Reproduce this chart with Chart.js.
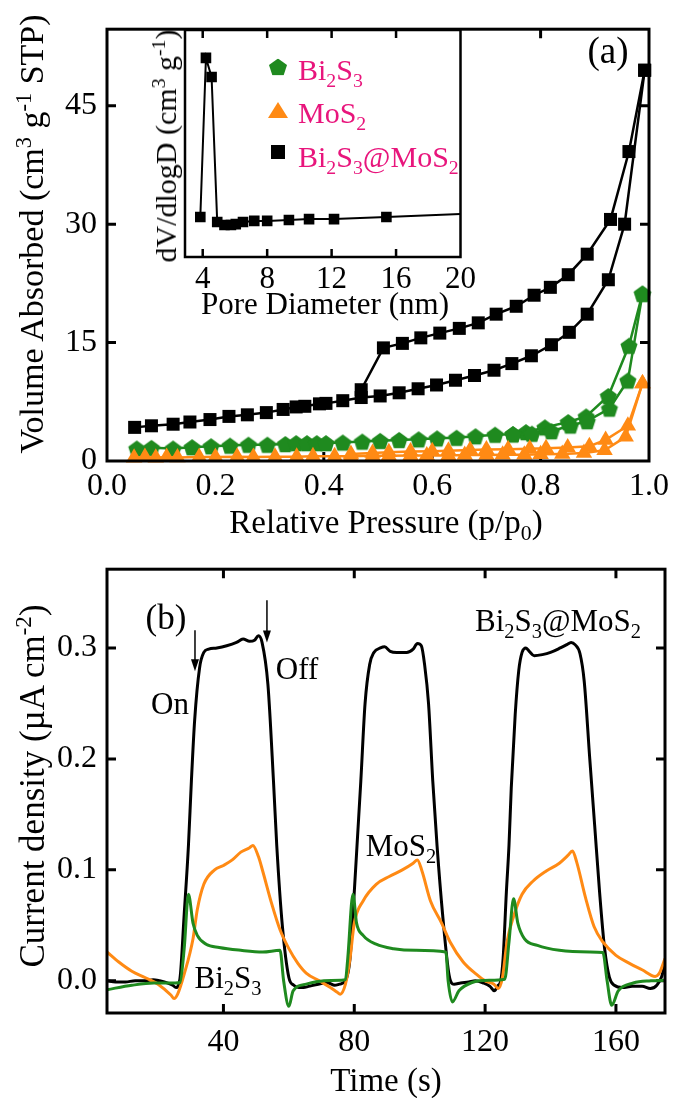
<!DOCTYPE html>
<html>
<head>
<meta charset="utf-8">
<script src="https://cdn.jsdelivr.net/npm/chart.js@4.4.1/dist/chart.umd.min.js"></script>
<style>
  body { margin: 0; width: 675px; height: 1098px; position: relative; background: #fff; overflow: hidden;
         font-family: 'Liberation Serif', 'Times New Roman', serif; }
  canvas { position: absolute; }
  .t { position: absolute; white-space: nowrap; transform: translate(-50%, -50%); line-height: 1; color: #000; }
  .r { transform: translate(-50%, -50%) rotate(-90deg); }
  .pink { color: #e8157c; }
  sub, sup { font-size: 66%; line-height: 0; }
  .mk { position: absolute; transform: translate(-50%, -50%); }
</style>
</head>
<body>
<canvas id="iso" width="675" height="510" style="left:0;top:0"></canvas>
<canvas id="pore" width="330" height="320" style="left:150px;top:0"></canvas>
<canvas id="photo" width="675" height="558" style="left:0;top:540px"></canvas>

<!-- panel (a) texts -->
<div class="t" style="left:608px;top:50px;font-size:37px">(a)</div>
<div class="t r" style="left:32px;top:234px;font-size:34px">Volume Absorbed (cm<sup>3</sup> g<sup>-1</sup> STP)</div>
<div class="t" style="left:386px;top:522px;font-size:33px">Relative Pressure (p/p<sub>0</sub>)</div>
<div class="t r" style="left:166px;top:146px;font-size:30px">dV/dlogD (cm<sup>3</sup> g<sup>-1</sup>)</div>
<div class="t" style="left:325px;top:303px;font-size:31px">Pore Diameter (nm)</div>

<!-- legend inside inset -->
<div class="mk" style="left:278px;top:67px;width:18px;height:17px;background:#1f8a1f;clip-path:polygon(50% 0,100% 38%,81% 100%,19% 100%,0 38%)"></div>
<div class="t pink" style="left:298px;top:70px;font-size:30px;transform:translate(0,-50%)">Bi<sub>2</sub>S<sub>3</sub></div>
<div class="mk" style="left:278px;top:110px;width:20px;height:16px;background:#ff8a14;clip-path:polygon(50% 0,100% 100%,0 100%)"></div>
<div class="t pink" style="left:298px;top:113px;font-size:30px;transform:translate(0,-50%)">MoS<sub>2</sub></div>
<div class="mk" style="left:278px;top:152px;width:14px;height:14px;background:#000"></div>
<div class="t pink" style="left:298px;top:157px;font-size:30px;transform:translate(0,-50%)">Bi<sub>2</sub>S<sub>3</sub>@MoS<sub>2</sub></div>

<!-- panel (b) texts -->
<div class="t" style="left:166px;top:617px;font-size:35px">(b)</div>
<div class="t" style="left:170px;top:703px;font-size:31px">On</div>
<div class="t" style="left:297px;top:668px;font-size:31px">Off</div>
<div class="t" style="left:558px;top:620px;font-size:31px">Bi<sub>2</sub>S<sub>3</sub>@MoS<sub>2</sub></div>
<div class="t" style="left:401px;top:845px;font-size:31px">MoS<sub>2</sub></div>
<div class="t" style="left:228px;top:977px;font-size:31px">Bi<sub>2</sub>S<sub>3</sub></div>
<div class="t r" style="left:32px;top:786px;font-size:35px">Current density (µA cm<sup>-2</sup>)</div>
<div class="t" style="left:386px;top:1080px;font-size:33px">Time (s)</div>

<script>
// ---------- (a) N2 isotherms ----------
const isoTicksX = [0, 0.2, 0.4, 0.6, 0.8, 1.0];
const isoTicksY = [0, 15, 30, 45];

const bsmAdsP = [0.051,0.082,0.122,0.153,0.19,0.225,0.259,0.294,0.325,0.349,0.365,0.392,0.404,0.435,0.469,0.504,0.539,0.574,0.608,0.643,0.678,0.714,0.747,0.783,0.82,0.853,0.886,0.925,0.955,0.992];
const bsmAdsV = [4.26,4.46,4.66,4.94,5.25,5.65,5.85,6.13,6.53,6.85,6.93,7.24,7.3,7.64,8.04,8.24,8.64,9.15,9.63,10.23,10.83,11.5,12.34,13.33,14.73,16.3,18.6,22.96,30.0,49.5];
const bsmDesP = [0.992,0.963,0.929,0.886,0.851,0.818,0.788,0.755,0.718,0.685,0.65,0.614,0.579,0.545,0.51,0.469];
const bsmDesV = [49.5,39.2,30.6,26.2,23.6,22.0,21.0,19.6,18.6,17.5,16.8,16.2,15.6,14.9,14.33,9.03];

const bisAdsP = [0.055,0.082,0.122,0.157,0.192,0.227,0.261,0.296,0.329,0.349,0.369,0.387,0.404,0.435,0.471,0.504,0.539,0.575,0.609,0.645,0.68,0.716,0.749,0.784,0.82,0.855,0.886,0.927,0.961,0.988];
const bisAdsV = [1.59,1.67,1.59,1.75,1.87,1.95,2.07,2.07,2.15,2.27,2.27,2.27,2.27,2.35,2.47,2.55,2.67,2.75,2.87,2.95,3.14,3.34,3.4,3.46,3.78,4.5,5.05,6.65,10.2,21.2];
const bisDesP = [0.988,0.963,0.925,0.884,0.851,0.808,0.773,0.749];
const bisDesV = [21.2,14.6,8.24,5.65,4.94,4.26,3.66,3.4];

const mosAdsP = [0.05,0.07,0.09,0.11,0.13,0.17,0.2,0.24,0.27,0.31,0.35,0.38,0.42,0.45,0.49,0.52,0.56,0.59,0.63,0.66,0.7,0.73,0.77,0.8,0.84,0.88,0.918,0.957,0.988];
const mosAdsV = [0.4,0.5,0.4,0.5,0.45,0.5,0.5,0.55,0.5,0.55,0.55,0.6,0.6,0.6,0.65,0.65,0.7,0.7,0.7,0.75,0.75,0.8,0.8,0.85,0.9,1.0,1.35,3.06,9.83];
const mosDesP = [0.988,0.961,0.92,0.89,0.85,0.81,0.78,0.74,0.7,0.67,0.63,0.6,0.56,0.52,0.49,0.45];
const mosDesV = [9.83,4.46,2.67,1.87,1.7,1.6,1.55,1.5,1.45,1.4,1.3,1.25,1.2,1.1,1.0,0.9];

// ---------- inset: pore size distribution ----------
const poreTicks = [4, 8, 12, 16, 20];
const poreD = [3.85,4.2,4.55,4.9,5.35,5.75,6.05,6.5,7.2,8.0,9.35,10.6,12.15,15.4,20];
const poreV = [17.6,87.7,79.3,15.4,14.1,14.1,14.5,15.4,15.9,15.9,16.3,16.7,16.7,17.6,18.9];

// ---------- (b) photocurrent ----------
const timeTicks = [40, 80, 120, 160];
const jTicks = [0, 0.1, 0.2, 0.3];

const bsmT = [4.4,7,10,13,16,18.5,20.5,23,24.5,25.5,26.7,28,29.3,30.2,31.2,32.7,34,35.5,38,41,44,46,48,49.5,50.7,51.8,53.6,55.3,56.3,58,60,61.5,63,64.5,66,69,72,74,75.5,77.3,78.7,80,81,82,83.3,84.7,86,88,89.3,91,93,96,98,99.3,100.5,101.5,102.7,104,105.3,107,109,110.5,112.5,115,117,119.5,121.5,122.8,124,124.7,125.5,126.5,127.3,128,129.2,130.3,131.3,132.5,133.5,135,137.5,140,143,145,146.3,147.5,149,150.3,152,153.5,155,156.5,158,159.5,162,165,168,170.5,172.5,174,175];
const bsmJ = [0.000,-0.001,-0.001,0.000,0.000,0.001,0.000,-0.002,-0.004,-0.006,0.002,0.060,0.122,0.180,0.235,0.282,0.296,0.299,0.300,0.302,0.305,0.308,0.306,0.307,0.311,0.305,0.267,0.180,0.122,0.050,0.003,-0.004,-0.006,-0.006,-0.005,-0.003,-0.002,-0.004,-0.003,0.000,0.020,0.080,0.130,0.180,0.250,0.285,0.296,0.300,0.301,0.297,0.296,0.296,0.299,0.304,0.302,0.285,0.250,0.180,0.122,0.060,0.005,-0.003,-0.002,-0.001,0.000,-0.002,-0.005,-0.009,-0.004,-0.001,0.020,0.080,0.122,0.174,0.240,0.280,0.296,0.300,0.297,0.293,0.294,0.296,0.300,0.303,0.305,0.303,0.295,0.270,0.200,0.140,0.080,0.030,0.003,-0.004,-0.006,-0.005,-0.005,-0.007,-0.004,0.004,0.015];

const mosT = [4.4,8,12,16,20,24,24.9,26,28,30.7,32,34,37.3,40,42.7,45.3,48,49,50.7,52,54.7,57.3,60,62.7,65.3,69.3,72.7,74.7,75.7,77.3,78.7,80,82.7,86.7,90.7,94.7,98,99.3,100.7,103.3,106.7,109.3,113.3,117.3,120,122.7,124,125.3,126.7,128.7,131.3,134.7,138.7,142.7,145.3,146.7,148,150.7,153.3,156,160,164,168,172,173.3,175];
const mosJ = [0.026,0.017,0.0087,0.003,-0.003,-0.013,-0.016,-0.012,0.006,0.038,0.064,0.087,0.100,0.104,0.109,0.116,0.120,0.122,0.112,0.099,0.070,0.046,0.029,0.016,0.007,0.000,-0.006,-0.010,-0.012,-0.003,0.020,0.052,0.072,0.087,0.094,0.100,0.106,0.109,0.099,0.072,0.052,0.035,0.017,0.006,0.000,-0.003,-0.007,0.003,0.035,0.058,0.078,0.090,0.099,0.106,0.113,0.117,0.107,0.075,0.049,0.035,0.023,0.016,0.010,0.004,0.007,0.020];

const bisT = [4.4,12,18.7,25.3,26.7,28,29.3,30.7,32,34.7,38.7,45.3,52,57.3,58.4,60,61.3,65.3,70.7,76,77.3,78,79.6,80.7,82.7,86.7,92,98.7,108,108.7,110,112,116,121.3,126,127.3,128.7,130,132,136,142.7,152,156,157.3,158.7,160.7,165.3,170.7,175];
const bisJ = [-0.008,-0.004,-0.002,-0.002,-0.0015,0.029,0.078,0.052,0.041,0.033,0.030,0.0275,0.026,0.0275,0.000,-0.023,-0.009,-0.003,0.000,0.0005,0.001,0.020,0.078,0.052,0.041,0.033,0.029,0.0275,0.026,0.000,-0.019,-0.009,-0.0015,0.0005,0.0015,0.035,0.074,0.052,0.038,0.032,0.0275,0.026,0.0255,0.000,-0.022,-0.009,-0.002,0.000,0.0005];

// on/off arrows (time, from, to)
const arrowT = [31.3, 53.3];
const arrowFrom = [0.316, 0.343];
const arrowTo = [0.279, 0.305];

const BLACK = '#000000';
const GREEN = '#1f8a1f';
const ORANGE = '#ff8a14';

Chart.defaults.font.family = "'Liberation Serif', 'Times New Roman', serif";
Chart.defaults.color = '#000';

function pts(xs, ys) {
  return xs.map((x, i) => ({ x: x, y: ys[i] }));
}

// pentagon marker for Bi2S3
function pentagon(r, color) {
  const c = document.createElement('canvas');
  c.width = c.height = Math.ceil(r * 2 + 2);
  const g = c.getContext('2d');
  g.fillStyle = color;
  g.beginPath();
  for (let k = 0; k < 5; k++) {
    const a = -Math.PI / 2 + k * 2 * Math.PI / 5;
    const px = c.width / 2 + r * Math.cos(a), py = c.height / 2 + r * Math.sin(a) + 1;
    k ? g.lineTo(px, py) : g.moveTo(px, py);
  }
  g.closePath();
  g.fill();
  return c;
}

// box + inward tick marks on all sides
const framePlugin = {
  id: 'frame',
  beforeDraw(chart, args, o) {
    if (!o.fill) return;
    const a = chart.chartArea, c = chart.ctx;
    c.save();
    c.fillStyle = o.fill;
    c.fillRect(a.left, a.top, a.right - a.left, a.bottom - a.top);
    c.restore();
  },
  beforeDatasetsDraw(chart, args, o) {
    const a = chart.chartArea, c = chart.ctx;
    const sx = chart.scales.x, sy = chart.scales.y;
    c.save();
    c.strokeStyle = '#000';
    c.lineWidth = o.width;
    c.beginPath();
    (o.xTicks || []).forEach(v => {
      const px = sx.getPixelForValue(v);
      if (px <= a.left + 2 || px >= a.right - 2) return;
      c.moveTo(px, a.bottom); c.lineTo(px, a.bottom - o.len);
      c.moveTo(px, a.top); c.lineTo(px, a.top + o.len);
    });
    (o.yTicks || []).forEach(v => {
      const py = sy.getPixelForValue(v);
      if (py <= a.top + 2 || py >= a.bottom - 2) return;
      c.moveTo(a.left, py); c.lineTo(a.left + o.len, py);
      c.moveTo(a.right, py); c.lineTo(a.right - o.len, py);
    });
    c.stroke();
    c.restore();
  },
  afterDatasetsDraw(chart, args, o) {
    const a = chart.chartArea, c = chart.ctx;
    c.save();
    c.strokeStyle = '#000';
    c.lineWidth = o.width;
    c.strokeRect(a.left, a.top, a.right - a.left, a.bottom - a.top);
    c.restore();
  }
};
Chart.register(framePlugin);

const arrowPlugin = {
  id: 'arrows',
  afterDatasetsDraw(chart) {
    const sx = chart.scales.x, sy = chart.scales.y, c = chart.ctx;
    c.save();
    c.strokeStyle = '#000';
    c.fillStyle = '#000';
    c.lineWidth = 1.5;
    arrowT.forEach((t, i) => {
      const px = sx.getPixelForValue(t);
      const y0 = sy.getPixelForValue(arrowFrom[i]);
      const y1 = sy.getPixelForValue(arrowTo[i]);
      c.beginPath(); c.moveTo(px, y0); c.lineTo(px, y1 - 10); c.stroke();
      c.beginPath(); c.moveTo(px - 4, y1 - 12); c.lineTo(px + 4, y1 - 12); c.lineTo(px, y1); c.closePath(); c.fill();
    });
    c.restore();
  }
};

function fixTicks(list) {
  return s => { s.ticks = list.map(v => ({ value: v })); };
}

const tickFont = { size: 32 };
const common = {
  responsive: false,
  animation: false,
  events: [],
};

// ---------- chart (a) ----------
const penta = pentagon(9, GREEN);
function isoSet(data, color, style, radius, order) {
  return {
    data: data, showLine: true, borderColor: color, backgroundColor: color,
    borderWidth: 2.5, pointStyle: style, pointRadius: radius, pointBorderWidth: 0,
    order: order, clip: false
  };
}
new Chart(document.getElementById('iso'), {
  type: 'scatter',
  data: {
    datasets: [
      isoSet(pts(bsmAdsP, bsmAdsV), BLACK, 'rect', 9.2, 3),
      isoSet(pts(bsmDesP, bsmDesV), BLACK, 'rect', 9.2, 3),
      isoSet(pts(bisAdsP, bisAdsV), GREEN, penta, 9, 2),
      isoSet(pts(bisDesP, bisDesV), GREEN, penta, 9, 2),
      isoSet(pts(mosAdsP, mosAdsV), ORANGE, 'triangle', 9.5, 1),
      isoSet(pts(mosDesP, mosDesV), ORANGE, 'triangle', 9.5, 1)
    ]
  },
  options: {
    ...common,
    layout: { padding: { left: 0, right: 10, top: 4, bottom: 0 } },
    scales: {
      x: {
        type: 'linear', min: 0, max: 1,
        afterBuildTicks: fixTicks(isoTicksX),
        afterFit: s => { s.height = 49; },
        grid: { display: false, drawTicks: false },
        border: { display: false },
        ticks: { font: tickFont, padding: 6, callback: v => v.toFixed(1) }
      },
      y: {
        min: 0, max: 54.7,
        afterBuildTicks: fixTicks(isoTicksY),
        afterFit: s => { s.width = 107; },
        grid: { display: false, drawTicks: false },
        border: { display: false },
        ticks: { font: tickFont, padding: 10 }
      }
    },
    plugins: {
      legend: { display: false },
      tooltip: { enabled: false },
      frame: { width: 3, len: 9, xTicks: isoTicksX, yTicks: isoTicksY }
    }
  }
});

// ---------- inset ----------
new Chart(document.getElementById('pore'), {
  type: 'scatter',
  data: {
    datasets: [{
      data: pts(poreD, poreV), showLine: true, borderColor: BLACK, backgroundColor: BLACK,
      borderWidth: 2, pointStyle: 'rect', pointBorderWidth: 0,
      pointRadius: ctx => (ctx.dataIndex === poreD.length - 1 ? 0 : 7.5)
    }]
  },
  options: {
    ...common,
    layout: { padding: { left: 35, right: 18, top: 30, bottom: 0 } },
    scales: {
      x: {
        type: 'linear', min: 2.9, max: 20,
        afterBuildTicks: fixTicks(poreTicks),
        afterFit: s => { s.height = 63; },
        grid: { display: false, drawTicks: false },
        border: { display: false },
        ticks: { font: { size: 31 }, padding: 4 }
      },
      y: { display: false, min: 0, max: 100 }
    },
    plugins: {
      legend: { display: false },
      tooltip: { enabled: false },
      frame: { width: 2.5, len: 8, fill: '#fff', xTicks: poreTicks, yTicks: [] }
    }
  }
});

// ---------- chart (b) ----------
function lineSet(data, color, order) {
  return {
    data: data, showLine: true, borderColor: color, backgroundColor: color,
    borderWidth: 3, pointRadius: 0, cubicInterpolationMode: 'monotone', order: order
  };
}
new Chart(document.getElementById('photo'), {
  type: 'scatter',
  data: {
    datasets: [
      lineSet(pts(bsmT, bsmJ), BLACK, 3),
      lineSet(pts(mosT, mosJ), ORANGE, 2),
      lineSet(pts(bisT, bisJ), GREEN, 1)
    ]
  },
  options: {
    ...common,
    layout: { padding: { left: 0, right: 10, top: 15, bottom: 0 } },
    scales: {
      x: {
        type: 'linear', min: 4.4, max: 175,
        afterBuildTicks: fixTicks(timeTicks),
        afterFit: s => { s.height = 85; },
        grid: { display: false, drawTicks: false },
        border: { display: false },
        ticks: { font: tickFont, padding: 10 }
      },
      y: {
        min: -0.029, max: 0.371,
        afterBuildTicks: fixTicks(jTicks),
        afterFit: s => { s.width = 107; },
        grid: { display: false, drawTicks: false },
        border: { display: false },
        ticks: { font: tickFont, padding: 10, callback: v => v.toFixed(1) }
      }
    },
    plugins: {
      legend: { display: false },
      tooltip: { enabled: false },
      frame: { width: 3, len: 9, xTicks: timeTicks, yTicks: jTicks }
    }
  },
  plugins: [arrowPlugin]
});
</script>
</body>
</html>
